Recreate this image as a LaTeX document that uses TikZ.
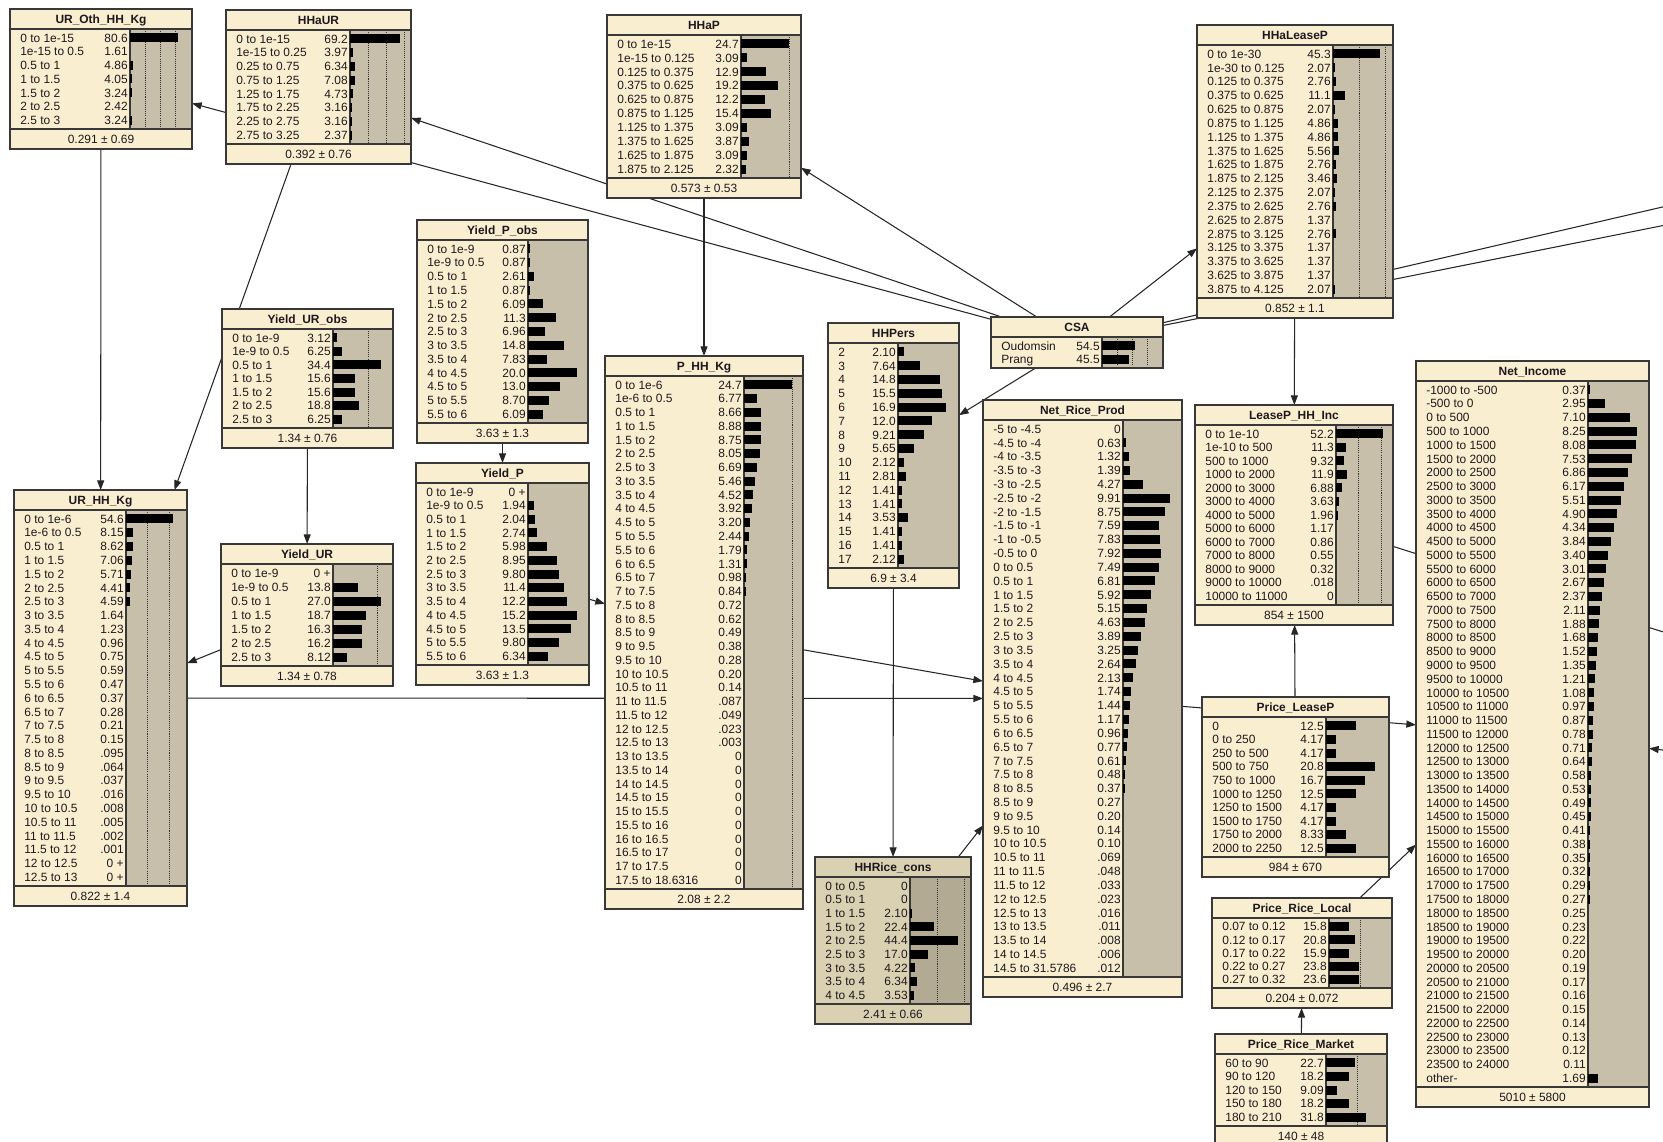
\documentclass[tikz,border=0pt]{standalone}
\usepackage{fontspec}
\setmainfont{Liberation Sans}
\usetikzlibrary{arrows.meta,fit}
\pgfdeclarelayer{paper}
\pgfdeclarelayer{bg}
\pgfsetlayers{paper,bg,main}

\definecolor{bncream}{RGB}{249,239,208}
\definecolor{bngray}{RGB}{199,191,170}
\definecolor{bncreamdk}{RGB}{218,209,178}
\definecolor{bngraydk}{RGB}{178,170,146}
\definecolor{bnedge}{RGB}{56,56,56}
\definecolor{bnink}{RGB}{30,24,30}

\tikzset{
  bnbody/.style={fill=bncream, inner sep=0pt, outer sep=0pt},
  bnframe/.style={draw=bnedge, line width=0.8pt},
  bnline/.style={draw=bnedge, line width=0.6pt},
  bnbar/.style={fill=bngray},
  bnbarfill/.style={fill=black},
  bndots/.style={draw=black!80, line width=0.45pt, dash pattern=on 0.6pt off 0.6pt},
  bntitle/.style={font=\bfseries\fontsize{6.8}{8}\selectfont, inner sep=0pt, text=bnink},
  bnrow/.style={font=\fontsize{6.8}{8}\selectfont, inner sep=0pt, text=bnink},
  link/.style={draw=black!85, line width=0.6pt, -{Triangle[length=5.5pt,width=4pt]}},
}

% prob shown as "0 +"
\def\zp{0 +}
\def\bngeom#1/#2/#3/#4/#5/#6\relax{\def\bnxa{#1}\def\bnya{#2}\def\bnxb{#3}\def\bnyb{#4}\def\bnxd{#5}\def\bnk{#6}}

% [colours] name, title, x1/y1/x2/y2/divider/scale, dotted lines, rows, footer
\newcommand{\bnnode}[7][]{%
  \begin{scope}
  #1%
  \bngeom#4\relax
  \pgfmathsetmacro\bnyt{\bnya+20}
  \ifx\relax#7\relax \pgfmathsetmacro\bnyc{\bnyb}\else \pgfmathsetmacro\bnyc{\bnyb+20}\fi
  \node[bnbody, fit={(\bnxa,\bnya) (\bnxb,\bnyc)}] (#2) {};
  \fill[bnbar] (\bnxd,\bnyt) rectangle (\bnxb,\bnyb);
  \ifx\relax#5\relax\else
    \foreach \d in {#5} {\draw[bndots] ({\bnxd+\bnk*\d},\bnyt) -- ({\bnxd+\bnk*\d},\bnyb);}
  \fi
  \draw[bnline] (\bnxa,\bnyt) -- (\bnxb,\bnyt) (\bnxd,\bnyt) -- (\bnxd,\bnyb);
  \ifx\relax#7\relax\else
    \draw[bnline] (\bnxa,\bnyb) -- (\bnxb,\bnyb);
    \node[bnrow, anchor=base] at ({(\bnxa+\bnxb)/2},\bnyb+14.5) {#7};
  \fi
  \node[bntitle, anchor=base] at ({(\bnxa+\bnxb)/2},\bnya+14.5) {#3};
  \foreach \r [count=\c] in {#6} {\xdef\bnn{\c}}
  \pgfmathsetmacro\bnh{(\bnyb-\bnyt-4)/\bnn}
  \def\tmpzp{\zp}
  \foreach \st/\pr [count=\i] in {#6} {
    \pgfmathsetmacro\yy{\bnyt+2+(\i-0.5)*\bnh}
    \node[bnrow, anchor=base west] at (\bnxa+10,\yy+4.3) {\st};
    \node[bnrow, anchor=base east] at (\bnxd-2,\yy+4.3) {\pr};
    \ifx\pr\tmpzp\else
      \pgfmathsetmacro\bw{\bnk*\pr}
      \ifdim\bw pt>1.5pt \fill[bnbarfill] (\bnxd,\yy-4.5) rectangle (\bnxd+\bw,\yy+4.5);\fi
    \fi
  }
  \draw[bnframe] (#2.north west) rectangle (#2.south east);
  \end{scope}}

\begin{document}
\begin{tikzpicture}[x=0.02cm, y=-0.02cm]
\useasboundingbox (0,0) rectangle (1663,1142);
\begin{pgfonlayer}{paper}
\fill[white] (0,0) rectangle (1663,1142);
\end{pgfonlayer}

\bnnode{UROth}{UR\_Oth\_HH\_Kg}{10/9/192/129/130/0.6}{25,50,75}{
  0 to 1e-15/80.6, 1e-15 to 0.5/1.61, 0.5 to 1/4.86, 1 to 1.5/4.05,
  1.5 to 2/3.24, 2 to 2.5/2.42, 2.5 to 3/3.24}{0.291 ± 0.69}

\bnnode{HHaUR}{HHaUR}{226/10/411/144/350/0.72}{25,50,75}{
  0 to 1e-15/69.2, 1e-15 to 0.25/3.97, 0.25 to 0.75/6.34, 0.75 to 1.25/7.08,
  1.25 to 1.75/4.73, 1.75 to 2.25/3.16, 2.25 to 2.75/3.16, 2.75 to 3.25/2.37}{0.392 ± 0.76}

\bnnode{HHaP}{HHaP}{607/15/801/178/741/1.94}{25}{
  0 to 1e-15/24.7, 1e-15 to 0.125/3.09, 0.125 to 0.375/12.9, 0.375 to 0.625/19.2,
  0.625 to 0.875/12.2, 0.875 to 1.125/15.4, 1.125 to 1.375/3.09, 1.375 to 1.625/3.87,
  1.625 to 1.875/3.09, 1.875 to 2.125/2.32}{0.573 ± 0.53}

\bnnode{HHaLeaseP}{HHaLeaseP}{1197/25/1393/298/1333/1.04}{25,50}{
  0 to 1e-30/45.3, 1e-30 to 0.125/2.07, 0.125 to 0.375/2.76, 0.375 to 0.625/11.1,
  0.625 to 0.875/2.07, 0.875 to 1.125/4.86, 1.125 to 1.375/4.86, 1.375 to 1.625/5.56,
  1.625 to 1.875/2.76, 1.875 to 2.125/3.46, 2.125 to 2.375/2.07, 2.375 to 2.625/2.76,
  2.625 to 2.875/1.37, 2.875 to 3.125/2.76, 3.125 to 3.375/1.37, 3.375 to 3.625/1.37,
  3.625 to 3.875/1.37, 3.875 to 4.125/2.07}{0.852 ± 1.1}

\bnnode{YieldPobs}{Yield\_P\_obs}{417/220/588/423/528/2.45}{}{
  0 to 1e-9/0.87, 1e-9 to 0.5/0.87, 0.5 to 1/2.61, 1 to 1.5/0.87, 1.5 to 2/6.09,
  2 to 2.5/11.3, 2.5 to 3/6.96, 3 to 3.5/14.8, 3.5 to 4/7.83, 4 to 4.5/20.0,
  4.5 to 5/13.0, 5 to 5.5/8.70, 5.5 to 6/6.09}{3.63 ± 1.3}

\bnnode{YieldURobs}{Yield\_UR\_obs}{222/309/393/428/333/1.4}{25}{
  0 to 1e-9/3.12, 1e-9 to 0.5/6.25, 0.5 to 1/34.4, 1 to 1.5/15.6,
  1.5 to 2/15.6, 2 to 2.5/18.8, 2.5 to 3/6.25}{1.34 ± 0.76}

\bnnode{URHH}{UR\_HH\_Kg}{14/490/187/886/126/0.86}{25,50}{
  0 to 1e-6/54.6, 1e-6 to 0.5/8.15, 0.5 to 1/8.62, 1 to 1.5/7.06, 1.5 to 2/5.71,
  2 to 2.5/4.41, 2.5 to 3/4.59, 3 to 3.5/1.64, 3.5 to 4/1.23, 4 to 4.5/0.96,
  4.5 to 5/0.75, 5 to 5.5/0.59, 5.5 to 6/0.47, 6 to 6.5/0.37, 6.5 to 7/0.28,
  7 to 7.5/0.21, 7.5 to 8/0.15, 8 to 8.5/.095, 8.5 to 9/.064, 9 to 9.5/.037,
  9.5 to 10/.016, 10 to 10.5/.008, 10.5 to 11/.005, 11 to 11.5/.002,
  11.5 to 12/.001, 12 to 12.5/\zp, 12.5 to 13/\zp}{0.822 ± 1.4}

\bnnode{PHH}{P\_HH\_Kg}{605/356/803/889/744/1.94}{25}{
  0 to 1e-6/24.7, 1e-6 to 0.5/6.77, 0.5 to 1/8.66, 1 to 1.5/8.88, 1.5 to 2/8.75,
  2 to 2.5/8.05, 2.5 to 3/6.69, 3 to 3.5/5.46, 3.5 to 4/4.52, 4 to 4.5/3.92,
  4.5 to 5/3.20, 5 to 5.5/2.44, 5.5 to 6/1.79, 6 to 6.5/1.31, 6.5 to 7/0.98,
  7 to 7.5/0.84, 7.5 to 8/0.72, 8 to 8.5/0.62, 8.5 to 9/0.49, 9 to 9.5/0.38,
  9.5 to 10/0.28, 10 to 10.5/0.20, 10.5 to 11/0.14, 11 to 11.5/.087,
  11.5 to 12/.049, 12 to 12.5/.023, 12.5 to 13/.003, 13 to 13.5/0, 13.5 to 14/0,
  14 to 14.5/0, 14.5 to 15/0, 15 to 15.5/0, 15.5 to 16/0, 16 to 16.5/0,
  16.5 to 17/0, 17 to 17.5/0, 17.5 to 18.6316/0}{2.08 ± 2.2}

\bnnode{HHPers}{HHPers}{828/323/959/568/898/2.84}{}{
  2/2.10, 3/7.64, 4/14.8, 5/15.5, 6/16.9, 7/12.0, 8/9.21, 9/5.65, 10/2.12,
  11/2.81, 12/1.41, 13/1.41, 14/3.53, 15/1.41, 16/1.41, 17/2.12}{6.9 ± 3.4}

\bnnode{CSA}{CSA}{991/317/1163/368/1102/0.6}{25,50,75}{
  Oudomsin/54.5, Prang/45.5}{}

\bnnode{NRP}{Net\_Rice\_Prod}{983/400/1182/977/1123/4.75}{}{
  -5 to -4.5/0, -4.5 to -4/0.63, -4 to -3.5/1.32, -3.5 to -3/1.39, -3 to -2.5/4.27,
  -2.5 to -2/9.91, -2 to -1.5/8.75, -1.5 to -1/7.59, -1 to -0.5/7.83, -0.5 to 0/7.92,
  0 to 0.5/7.49, 0.5 to 1/6.81, 1 to 1.5/5.92, 1.5 to 2/5.15, 2 to 2.5/4.63,
  2.5 to 3/3.89, 3 to 3.5/3.25, 3.5 to 4/2.64, 4 to 4.5/2.13, 4.5 to 5/1.74,
  5 to 5.5/1.44, 5.5 to 6/1.17, 6 to 6.5/0.96, 6.5 to 7/0.77, 7 to 7.5/0.61,
  7.5 to 8/0.48, 8 to 8.5/0.37, 8.5 to 9/0.27, 9 to 9.5/0.20, 9.5 to 10/0.14,
  10 to 10.5/0.10, 10.5 to 11/.069, 11 to 11.5/.048, 11.5 to 12/.033,
  12 to 12.5/.023, 12.5 to 13/.016, 13 to 13.5/.011, 13.5 to 14/.008,
  14 to 14.5/.006, 14.5 to 31.5786/.012}{0.496 ± 2.7}

\bnnode{YieldP}{Yield\_P}{416/463/589/665/528/3.2}{}{
  0 to 1e-9/\zp, 1e-9 to 0.5/1.94, 0.5 to 1/2.04, 1 to 1.5/2.74, 1.5 to 2/5.98,
  2 to 2.5/8.95, 2.5 to 3/9.80, 3 to 3.5/11.4, 3.5 to 4/12.2, 4 to 4.5/15.2,
  4.5 to 5/13.5, 5 to 5.5/9.80, 5.5 to 6/6.34}{3.63 ± 1.3}

\bnnode{YieldUR}{Yield\_UR}{221/544/393/666/333/1.78}{25}{
  0 to 1e-9/\zp, 1e-9 to 0.5/13.8, 0.5 to 1/27.0, 1 to 1.5/18.7,
  1.5 to 2/16.3, 2 to 2.5/16.2, 2.5 to 3/8.12}{1.34 ± 0.78}

\bnnode[\colorlet{bncream}{bncreamdk}\colorlet{bngray}{bngraydk}]{HHRice}{HHRice\_cons}{815/857/971/1004/910/1.08}{25,50}{
  0 to 0.5/0, 0.5 to 1/0, 1 to 1.5/2.10, 1.5 to 2/22.4, 2 to 2.5/44.4,
  2.5 to 3/17.0, 3 to 3.5/4.22, 3.5 to 4/6.34, 4 to 4.5/3.53}{2.41 ± 0.66}

\bnnode{LeaseInc}{LeaseP\_HH\_Inc}{1195/405/1393/605/1336/0.9}{25,50}{
  0 to 1e-10/52.2, 1e-10 to 500/11.3, 500 to 1000/9.32, 1000 to 2000/11.9,
  2000 to 3000/6.88, 3000 to 4000/3.63, 4000 to 5000/1.96, 5000 to 6000/1.17,
  6000 to 7000/0.86, 7000 to 8000/0.55, 8000 to 9000/0.32, 9000 to 10000/.018,
  10000 to 11000/0}{854 ± 1500}

\bnnode{PriceLease}{Price\_LeaseP}{1202/697/1389/857/1326/2.36}{}{
  0/12.5, 0 to 250/4.17, 250 to 500/4.17, 500 to 750/20.8, 750 to 1000/16.7,
  1000 to 1250/12.5, 1250 to 1500/4.17, 1500 to 1750/4.17, 1750 to 2000/8.33,
  2000 to 2250/12.5}{984 ± 670}

\bnnode{PriceLocal}{Price\_Rice\_Local}{1212/898/1392/988/1329/1.26}{25}{
  0.07 to 0.12/15.8, 0.12 to 0.17/20.8, 0.17 to 0.22/15.9, 0.22 to 0.27/23.8,
  0.27 to 0.32/23.6}{0.204 ± 0.072}

\bnnode{PriceMarket}{Price\_Rice\_Market}{1215/1034/1387/1126/1326/1.26}{25}{
  60 to 90/22.7, 90 to 120/18.2, 120 to 150/9.09, 150 to 180/18.2,
  180 to 210/31.8}{140 ± 48}

\bnnode{NetInc}{Net\_Income}{1416/361/1649/1087/1588/5.9}{}{
  -1000 to -500/0.37, -500 to 0/2.95, 0 to 500/7.10, 500 to 1000/8.25,
  1000 to 1500/8.08, 1500 to 2000/7.53, 2000 to 2500/6.86, 2500 to 3000/6.17,
  3000 to 3500/5.51, 3500 to 4000/4.90, 4000 to 4500/4.34, 4500 to 5000/3.84,
  5000 to 5500/3.40, 5500 to 6000/3.01, 6000 to 6500/2.67, 6500 to 7000/2.37,
  7000 to 7500/2.11, 7500 to 8000/1.88, 8000 to 8500/1.68, 8500 to 9000/1.52,
  9000 to 9500/1.35, 9500 to 10000/1.21, 10000 to 10500/1.08, 10500 to 11000/0.97,
  11000 to 11500/0.87, 11500 to 12000/0.78, 12000 to 12500/0.71, 12500 to 13000/0.64,
  13000 to 13500/0.58, 13500 to 14000/0.53, 14000 to 14500/0.49, 14500 to 15000/0.45,
  15000 to 15500/0.41, 15500 to 16000/0.38, 16000 to 16500/0.35, 16500 to 17000/0.32,
  17000 to 17500/0.29, 17500 to 18000/0.27, 18000 to 18500/0.25, 18500 to 19000/0.23,
  19000 to 19500/0.22, 19500 to 20000/0.20, 20000 to 20500/0.19, 20500 to 21000/0.17,
  21000 to 21500/0.16, 21500 to 22000/0.15, 22000 to 22500/0.14, 22500 to 23000/0.13,
  23000 to 23500/0.12, 23500 to 24000/0.11, other-/1.69}{5010 ± 5800}

% links to nodes beyond the right edge
\coordinate (offA) at (1956,139);
\coordinate (offB) at (1956,167);
\coordinate (offC) at (1900,707);
\coordinate (offD) at (1800,767);

\begin{pgfonlayer}{bg}
\draw[link] (CSA) -- (UROth);
\draw[link] (CSA) -- (HHaUR);
\draw[link] (CSA) -- (HHaP);
\draw[link] (CSA) -- (HHaLeaseP);
\draw[link] (CSA) -- (HHPers);
\draw[link] (CSA) -- (offA);
\draw[link] (CSA) -- (offB);
\draw[link] (HHaUR) -- (URHH);
\draw[link] (UROth) -- (URHH);
\draw[link] (YieldURobs) -- (YieldUR);
\draw[link] (YieldUR) -- (URHH);
\draw[link] (URHH) -- (NRP);
\draw[link] (YieldPobs) -- (YieldP);
\draw[link] (YieldP) -- (PHH);
\draw[link] (HHaP) -- (PHH);
\draw[link] (PHH) -- (NRP);
\draw[link] (HHPers) -- (HHRice);
\draw[link] (HHRice) -- (NRP);
\draw[link] (NRP) -- (NetInc);
\draw[link] (HHaLeaseP) -- (LeaseInc);
\draw[link] (PriceLease) -- (LeaseInc);
\draw[link] (LeaseInc) -- (offC);
\draw[link] (PriceLocal) -- (NetInc);
\draw[link] (PriceMarket) -- (PriceLocal);
\draw[link] (offD) -- (NetInc);
\end{pgfonlayer}
\end{tikzpicture}
\end{document}
